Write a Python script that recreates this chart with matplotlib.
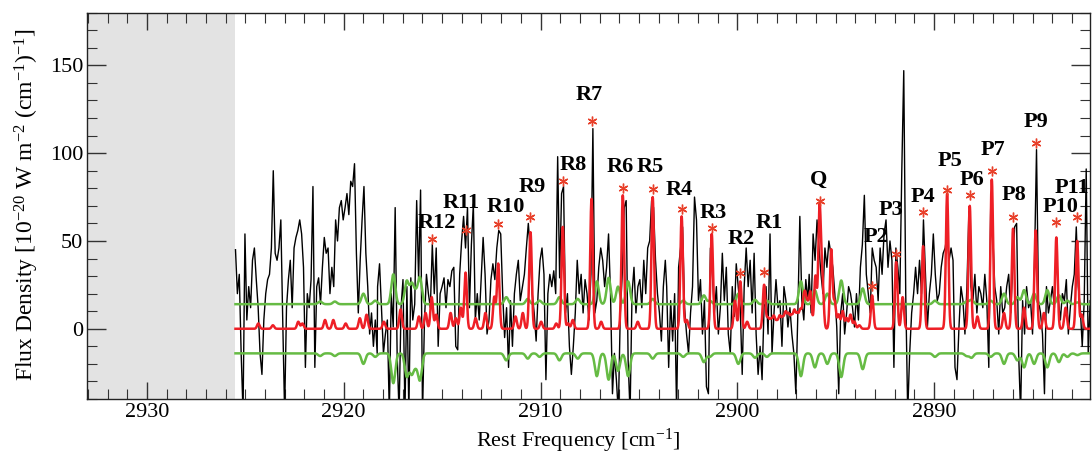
import numpy as np
import matplotlib
matplotlib.use("Agg")
import matplotlib.pyplot as plt
from matplotlib.ticker import MultipleLocator

plt.rcParams['font.family'] = ['Liberation Serif', 'DejaVu Serif']
plt.rcParams['mathtext.fontset'] = 'custom'
plt.rcParams['mathtext.rm'] = 'Liberation Serif'
plt.rcParams['mathtext.default'] = 'regular'

# ---------------------------------------------------------------------------
# Observed spectrum, stored in six consecutive chunks.
# Each chunk is regularly sampled between the given start / end frequency.
# ---------------------------------------------------------------------------
chunk_bounds = [(2925.50, 2918.30), (2918.28, 2911.03), (2910.82, 2903.66),
                (2903.59, 2896.42), (2896.35, 2889.04), (2888.94, 2882.07)]

flux_a = [45, 20, 31, -14, -48, 54, 5, 24, 12, 39, 46, 28, 12, -14, -26, 5, 20, 28, 31, 46,
          90, 43, 39, 46, 62, 5, -48, 12, 28, 39, 12, 46, 52, 56, 62, 54, 35, -22, 20, 12,
          28, 81, -22, 24, 29, 14, 35, 52, 43, 46, 20, 35, 24, 62, 50, 69, 73, 62, 69, 77,
          65, 84, 81, 94, 43, 9, 39, 62, 81, 43, 24, -3, 9, -10, 5, -14]
flux_b = [24, 37, 12, -14, -3, 5, -48, 20, 1, 69, -14, -48, 12, 28, -48, 24, -48, 29, 5,
          14, 73, 28, 79, -48, 5, 31, 20, 12, 48, 20, 46, -10, 20, 24, 29, 12, 28, 24, 33,
          35, -10, -12, 31, 50, 64, 46, 69, 12, 48, 71, 5, 20, 5, 28, 52, 31, -3, 5, 28,
          37, 28, 46, 56, 54, 20, -5, 12, -22, 16, -10, 20, 31, 39, 16]
flux_c = [31, 46, 60, 45, 20, 9, -7, 20, 39, 46, 31, -29, 20, 31, 24, 33, 20, 98, 29, 77,
          81, 9, 20, -10, -26, -10, 9, 39, 20, 31, 9, 28, 20, 5, 31, 114, 9, 16, 35, 46,
          39, 24, 35, 54, 20, -37, -14, -29, -48, 9, 31, 69, 73, -18, -48, 20, 35, 9, 24, 28,
          12, 39, 20, 46, 50, 73, 69, 39, 20, 9, -7, 24, 39]
flux_d = [24, -22, 16, -7, 20, -48, 35, 46, 58, 12, -3, -14, 9, 24, 75, 62, 16, 28,
          -3, 16, -33, -37, 46, 31, 9, 24, -3, 12, 43, 16, 35, -3, -14, 24, 7, 37, 24, 12,
          -26, 24, 46, 24, 39, 9, 43, -3, -26, -10, -29, 12, 24, -3, 54, -14, 9, 28, 12, 16,
          -10, 24, 16, 1, 12, -3, -14, -37, 9, 64, 16, 5, 28, 16]
flux_e = [31, 9, 54, 39, 62, 46, 31, 20, 46, 35, 50, 43, 35, 20, 1, -37, 9, 20, -3,
          9, 24, 20, 12, 1, 20, 5, 35, 48, 76, 31, 20, 9, 46, 39, 35, 16, 46, 31, 54,
          62, 35, 50, 39, -22, 46, 35, 20, 90, 147, 20, -48, -14, 9, 20, 35, 20, 39, 20, 62,
          31, 1, 20, 31, 54, 31, 16, 20, 35, 43, 46, 54, 39, 46, 39]
flux_f = [-22, -29, 1, 24, 16, -3, 24, 67, 24, 16, 31, 9, 24, 20, 12, 31, 16,
          -22, 73, 54, 24, 16, -3, 24, 9, 12, 24, 31, 9, 35, 58, 60, -14, -48, 16, -3, 24,
          12, 16, -3, 39, 102, 16, 9, -3, -37, 24, 9, 16, 24, 12, 52, 16, 5, 20, 16, 28,
          -3, 12, 24, 31, 58, 24, 12, -10, 16, 91, -14, 16]
flux_chunks = [flux_a, flux_b, flux_c, flux_d, flux_e, flux_f]

# ---------------------------------------------------------------------------
# Identified lines (model peak flux and marker flux)
# ---------------------------------------------------------------------------
line_names = ['R12', 'R11', 'R10', 'R9', 'R8', 'R7', 'R6', 'R5', 'R4', 'R3', 'R2', 'R1',
              'Q', 'P2', 'P3', 'P4', 'P5', 'P6', 'P7', 'P8', 'P9', 'P10', 'P11']
line_freq = [2915.53, 2913.81, 2912.15, 2910.51, 2908.87, 2907.41, 2905.82, 2904.30,
             2902.83, 2901.30, 2899.85, 2898.64, 2895.82, 2893.15, 2891.93, 2890.56,
             2889.34, 2888.19, 2887.07, 2885.99, 2884.84, 2883.79, 2882.73]
line_peak = [18, 32, 37, 55, 58, 74, 76, 75, 64, 54, 27, 25, 68, 19, 38, 47,
             77, 70, 85, 57, 56, 52, 50]
mark_flux = [51.2, 56.4, 59.4, 63.6, 84.0, 118.6, 80.3, 79.7, 68.3, 57.3, 31.7, 32.3,
             73.0, 24.6, 42.8, 66.4, 79.3, 75.9, 89.8, 63.6, 106.0, 60.7, 63.6]

# weaker model lines
weak_freq = [2924.34, 2923.60, 2922.31, 2922.10, 2920.95, 2920.53, 2919.90, 2919.18, 2918.84,
             2917.96, 2917.11, 2916.18, 2915.84, 2915.30, 2914.57, 2914.30, 2914.05, 2913.30,
             2912.80, 2912.35, 2911.27, 2910.90, 2909.97, 2909.20, 2908.60, 2908.36, 2906.92,
             2905.06, 2902.57, 2900.12, 2899.50,
             2898.45, 2898.30, 2898.15, 2898.00, 2897.85, 2897.70, 2897.55, 2897.40, 2897.25,
             2897.10, 2896.95, 2896.80, 2896.65, 2896.55, 2896.42, 2896.28, 2896.03,
             2895.68, 2895.23, 2895.05, 2894.85, 2894.65, 2894.45, 2894.25, 2894.05, 2893.80,
             2891.60, 2887.80, 2886.45, 2885.43, 2884.42, 2883.32, 2882.50]
weak_peak = [3, 2, 4, 3, 5, 5, 3, 6, 8,
             4, 11, 7, 9, 8, 9, 6, 12, 6,
             9, 18, 7, 9, 4, 3, 3, 5, 4,
             4, 5, 16, 4,
             6, 5, 7, 4, 7, 6, 9, 8, 7,
             10, 8, 10, 12, 16, 12, 20, 30,
             28, 45, 15, 8, 10, 6, 8, 4, 2,
             18, 7, 9, 12, 9, 12, 8]

# noise level (1 sigma) and where it rises
noise_level = 14.0
noise_freq = [2921.20, 2920.45, 2919.00, 2918.40, 2917.48, 2916.80, 2916.55, 2916.35, 2916.13,
              2911.74, 2910.65, 2910.05, 2909.04, 2908.11, 2907.14, 2906.54, 2906.06, 2905.55,
              2904.30, 2902.75, 2901.70, 2901.40, 2899.95, 2899.10, 2898.50, 2896.77, 2896.06,
              2895.43, 2894.72, 2893.63, 2889.96, 2888.35, 2888.10, 2887.13, 2886.45, 2885.77,
              2885.43, 2884.92, 2884.25, 2883.66, 2883.23, 2882.72]
noise_bump = [1.5, 1.5, 6, 2, 17, 13, 11, 6, 15,
              4, 3, 2, 4, 3, 13, 15, 10, 13,
              3, 2, 5, 2, 6, 2.5, 2, 13, 8,
              6, 13.5, 9, 2, 1.5, 2.5, 2, 6, 4,
              8, 6, 8, 5, 2, 1]

# ---------------------------------------------------------------------------
fig = plt.figure(figsize=(10.92, 4.55), dpi=100)
ax = fig.add_axes([87.3 / 1092, 1 - 399 / 455, (1090 - 87.3) / 1092, (399 - 12.7) / 455])

x_lo, x_hi = 2933.03, 2882.08
ax.set_xlim(x_lo, x_hi)
ax.set_ylim(-40, 180)

# region outside the observed band
ax.axvspan(x_lo, 2925.5, color='#e3e3e3', lw=0, zorder=0)

# observed spectrum, drawn as one continuous trace
obs_freq = np.concatenate([np.linspace(f0, f1, len(v))
                           for (f0, f1), v in zip(chunk_bounds, flux_chunks)])
obs_flux = np.concatenate([np.asarray(v, float) for v in flux_chunks])
ax.plot(obs_freq, obs_flux, color='black', lw=1.0, zorder=2)

# model and noise envelope on a fine grid
grid = np.arange(2925.5, 2882.0, -0.01)


def profile(centres, heights, sigma):
    out = np.zeros_like(grid)
    for c, h in zip(centres, heights):
        out += h * np.exp(-0.5 * ((grid - c) / sigma) ** 2)
    return out


model = profile(line_freq + weak_freq, line_peak + weak_peak, 0.065)
noise = noise_level + profile(noise_freq, noise_bump, 0.10)

green = '#66bb44'
ax.plot(grid, noise, color=green, lw=1.8, zorder=3)
ax.plot(grid, -noise, color=green, lw=1.8, zorder=3)
ax.plot(grid, model, color='#ee1f26', lw=1.8, zorder=4)

# line markers
ax.plot(line_freq, mark_flux, ls='none', marker=(6, 2, 0), ms=7, mew=1.0,
        color='#e8402a', zorder=5)

# line labels (frequency, flux of the label centre)
label_pos = [(2915.26, 60.4), (2914.04, 71.9), (2911.76, 69.1), (2910.44, 80.5),
             (2908.35, 93.0), (2907.54, 133.4), (2905.97, 91.9), (2904.44, 91.9),
             (2902.97, 78.8), (2901.24, 65.7), (2899.82, 51.4), (2898.39, 60.0),
             (2895.85, 85.0), (2892.96, 52.0), (2892.20, 67.4), (2890.57, 74.8),
             (2889.20, 95.3), (2888.08, 84.5), (2887.01, 101.6), (2885.95, 75.9),
             (2884.83, 117.5), (2883.56, 69.1), (2882.12, 79.9)]
for name, (lx, ly) in zip(line_names, label_pos):
    ha = 'right' if name == 'P11' else 'center'
    ax.text(lx, ly, name, ha=ha, va='center', fontsize=16, fontweight='bold',
            zorder=6, clip_on=False)

# axes styling
ax.xaxis.set_major_locator(MultipleLocator(10))
ax.xaxis.set_minor_locator(MultipleLocator(1))
ax.yaxis.set_major_locator(MultipleLocator(50))
ax.yaxis.set_minor_locator(MultipleLocator(10))
ax.tick_params(which='both', direction='in', top=True, right=True, labelsize=16,
               color='#333333')
ax.tick_params(axis='x', which='major', length=12, width=1, pad=3)
ax.tick_params(axis='y', which='major', length=14, width=1, pad=3)
ax.tick_params(which='minor', length=7, width=0.8)
for sp in ax.spines.values():
    sp.set_linewidth(1.0)
    sp.set_color('#222222')

fig.text(27 / 1092, 1 - 205 / 455,
         r'Flux Density [10$^{-20}$ W m$^{-2}$ (cm$^{-1}$)$^{-1}$]',
         rotation=90, ha='center', va='center', fontsize=17)
fig.text(578 / 1092, 1 - 441 / 455, r'Rest Frequency [cm$^{-1}$]',
         ha='center', va='center', fontsize=16)

fig.savefig('out.png', dpi=100)
